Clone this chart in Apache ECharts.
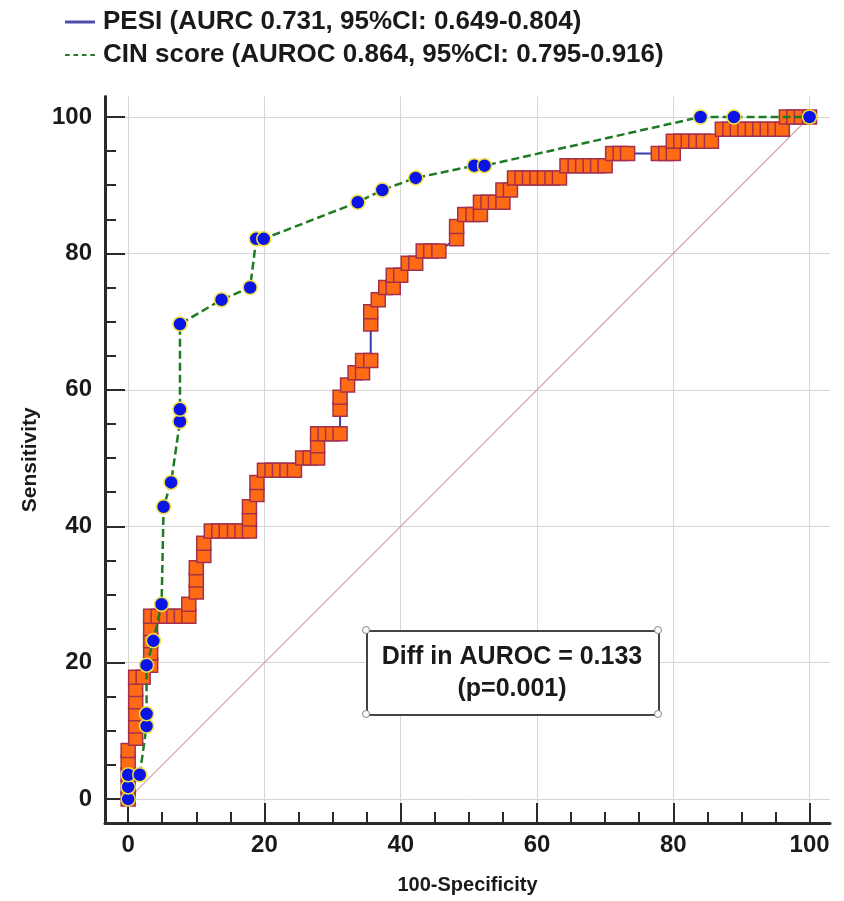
<!DOCTYPE html>
<html>
<head>
<meta charset="utf-8">
<script src="https://cdn.jsdelivr.net/npm/echarts@6/dist/echarts.min.js"></script>
<style>
html,body{margin:0;padding:0;background:#fff;}
#chart{width:844px;height:901px;}
</style>
</head>
<body>
<div id="chart"></div>
<script>
// ---- data ----
const pesiName = 'PESI (AURC 0.731, 95%CI: 0.649-0.804)';
const cinName = 'CIN score (AUROC 0.864, 95%CI: 0.795-0.916)';
const annotLine1 = 'Diff in AUROC = 0.133';
const annotLine2 = '(p=0.001)';
const xTitle = '100-Specificity';
const yTitle = 'Sensitivity';
const majorTicks = [0, 20, 40, 60, 80, 100];
const minorTicks = [0,5,10,15,20,25,30,35,40,45,50,55,60,65,70,75,80,85,90,95,100];

const pesiSpec = [0,0,0,0,0, 1.1,1.1,1.1,1.1,1.1,1.1, 2.2,3.3,3.3,3.3,3.3,3.3,
  4.4,5.6,6.7,7.8,8.9,8.9, 10,10,10,11.1,11.1, 12.2,13.3,14.4,15.6,16.7,17.8,
  17.8,17.8,18.9,18.9, 20,21.1,22.2,23.3,24.4, 25.6,26.7,27.8,27.8,27.8,
  28.9,30,31.1, 31.1,31.1,32.2,33.3,34.4,34.4,35.6, 35.6,35.6,36.7,37.8,38.9,38.9,40,
  41.1,42.2,43.3,44.4,45.6, 48.2,48.2,49.4,50.6,51.7,51.7,52.8,53.9,55,55,56.1,
  56.7,57.8,58.9,60,61.1,62.2,63.3, 64.4,65.6,66.7,67.8,68.9,70,
  71.1,72.2,73.3,77.8,78.9,80, 80,81.1,82.2,83.3,84.4,85.6,
  87.2,88.3,89.4,90.5,91.6,92.7,93.8,94.9,96, 96.6,97.7,98.8,100];
const pesiSens = [0,1.79,3.57,5.36,7.14, 8.93,10.71,12.5,14.29,16.07,17.86, 17.86,19.64,21.43,23.21,25,26.79,
  26.79,26.79,26.79,26.79,26.79,28.57, 30.36,32.14,33.93,35.71,37.5, 39.29,39.29,39.29,39.29,39.29,39.29,
  41.07,42.86,44.64,46.43, 48.21,48.21,48.21,48.21,48.21, 50,50,50,51.79,53.57,
  53.57,53.57,53.57, 57.14,58.93,60.71,62.5,62.5,64.29,64.29, 69.64,71.43,73.21,75,75,76.79,76.79,
  78.57,78.57,80.36,80.36,80.36, 82.14,83.93,85.71,85.71,85.71,87.5,87.5,87.5,87.5,89.29,89.29,
  91.07,91.07,91.07,91.07,91.07,91.07,91.07, 92.86,92.86,92.86,92.86,92.86,92.86,
  94.64,94.64,94.64,94.64,94.64,94.64, 96.43,96.43,96.43,96.43,96.43,96.43,
  98.21,98.21,98.21,98.21,98.21,98.21,98.21,98.21,98.21, 100,100,100,100];

const cinSpec = [0,0,0,1.7,2.7,2.7,2.7,3.7,4.9,5.2,6.3,7.6,7.6,7.6,13.7,17.9,18.8,19.9,33.7,37.3,42.2,50.8,52.3,84,88.9,100];
const cinSens = [0,1.79,3.57,3.57,10.71,12.5,19.64,23.21,28.57,42.86,46.43,55.36,57.14,69.64,73.21,75,82.14,82.14,87.5,89.29,91.07,92.86,92.86,100,100,100];

const refSpec = [0, 100];
const refSens = [0, 100];

// ---- build ----
const zip = (a, b) => a.map((v, i) => [v, b[i]]);
const FONT = "'Liberation Sans', Arial, Helvetica, sans-serif";
const TXT = '#1a1a1a';
const chart = echarts.init(document.getElementById('chart'), null, {renderer: 'canvas'});

const xMin = -3.4, xMax = 103, yMin = -3.5, yMax = 103;
const gridDef = {left: 105, top: 96.5, width: 725, height: 726.5};

function mainAxis(isX) {
  return {
    type: 'value', min: isX ? xMin : yMin, max: isX ? xMax : yMax,
    position: isX ? 'bottom' : 'left',
    name: isX ? xTitle : yTitle,
    nameLocation: 'middle',
    nameGap: isX ? 52 : 64,
    nameTextStyle: {fontFamily: FONT, fontWeight: 'bold', fontSize: isX ? 20 : 21, color: TXT},
    axisLine: {show: true, onZero: false, lineStyle: {color: '#2a2a2a', width: 3}},
    axisTick: {show: true, inside: true, length: 20, customValues: majorTicks, lineStyle: {color: '#2a2a2a', width: 2}},
    axisLabel: {show: true, customValues: majorTicks, margin: isX ? 10 : 13,
      fontFamily: FONT, fontWeight: 'bold', fontSize: 24, color: TXT},
    splitLine: {show: true, lineStyle: {color: '#d6d6d6', width: 1}}
  };
}
function minorAxis(isX) {
  return {
    type: 'value', min: isX ? xMin : yMin, max: isX ? xMax : yMax,
    position: isX ? 'bottom' : 'left',
    axisLine: {show: false, onZero: false},
    axisTick: {show: true, inside: true, length: 11, customValues: minorTicks, lineStyle: {color: '#2a2a2a', width: 2}},
    axisLabel: {show: false},
    splitLine: {show: false}
  };
}

const boxChild = (o) => Object.assign({z: 100, zlevel: 0}, o);

const option = {
  backgroundColor: '#fff',
  animation: false,
  grid: gridDef,
  legend: {
    orient: 'vertical', left: 60, top: 4, itemGap: 7,
    itemWidth: 30, itemHeight: 3,
    textStyle: {fontFamily: FONT, fontWeight: 'bold', fontSize: 26, color: TXT, padding: [0, 0, 0, 3]},
    data: [
      {name: pesiName, icon: 'rect', itemStyle: {color: '#4c4caa', borderWidth: 0}},
      {name: cinName, icon: 'path://M0,0h5v2h-5z M9,0h5v2h-5z M18,0h5v2h-5z M27,0h5v2h-5z', itemStyle: {color: '#2f7a2f', borderWidth: 0}}
    ],
    selectedMode: false
  },
  xAxis: [mainAxis(true), minorAxis(true)],
  yAxis: [mainAxis(false), minorAxis(false)],
  series: [
    {
      type: 'line', name: 'ref', data: zip(refSpec, refSens), showSymbol: false, symbol: 'none',
      lineStyle: {color: '#d8a2a8', width: 1.2}, z: 1, silent: true
    },
    {
      type: 'line', name: pesiName, data: zip(pesiSpec, pesiSens),
      symbol: 'rect', symbolSize: 14, showAllSymbol: true,
      lineStyle: {color: '#3b3bb0', width: 2},
      itemStyle: {color: '#ff6a14', borderColor: '#a4304c', borderWidth: 1.5},
      z: 3
    },
    {
      type: 'line', name: cinName, data: zip(cinSpec, cinSens),
      symbol: 'circle', symbolSize: 14, showAllSymbol: true,
      lineStyle: {color: '#1f7a24', width: 2.5, type: [8, 4]},
      itemStyle: {color: '#0a14e6', borderColor: '#f0e040', borderWidth: 1.5},
      z: 4
    }
  ],
  graphic: [
    boxChild({type: 'rect', left: 366, top: 630, shape: {x: 0, y: 0, width: 292, height: 84}, style: {fill: '#fff', stroke: '#444', lineWidth: 2}}),
    boxChild({type: 'circle', x: 366, y: 630, shape: {cx: 0, cy: 0, r: 3.5}, style: {fill: '#fff', stroke: '#888', lineWidth: 1}, z: 101}),
    boxChild({type: 'circle', x: 658, y: 630, shape: {cx: 0, cy: 0, r: 3.5}, style: {fill: '#fff', stroke: '#888', lineWidth: 1}, z: 101}),
    boxChild({type: 'circle', x: 366, y: 714, shape: {cx: 0, cy: 0, r: 3.5}, style: {fill: '#fff', stroke: '#888', lineWidth: 1}, z: 101}),
    boxChild({type: 'circle', x: 658, y: 714, shape: {cx: 0, cy: 0, r: 3.5}, style: {fill: '#fff', stroke: '#888', lineWidth: 1}, z: 101}),
    boxChild({type: 'text', x: 512, y: 657, style: {text: annotLine1, fill: TXT, font: "bold 25px " + FONT, align: 'center', verticalAlign: 'middle'}, z: 102}),
    boxChild({type: 'text', x: 512, y: 689, style: {text: annotLine2, fill: TXT, font: "bold 25px " + FONT, align: 'center', verticalAlign: 'middle'}, z: 102})
  ]
};
chart.setOption(option);
</script>
</body>
</html>
